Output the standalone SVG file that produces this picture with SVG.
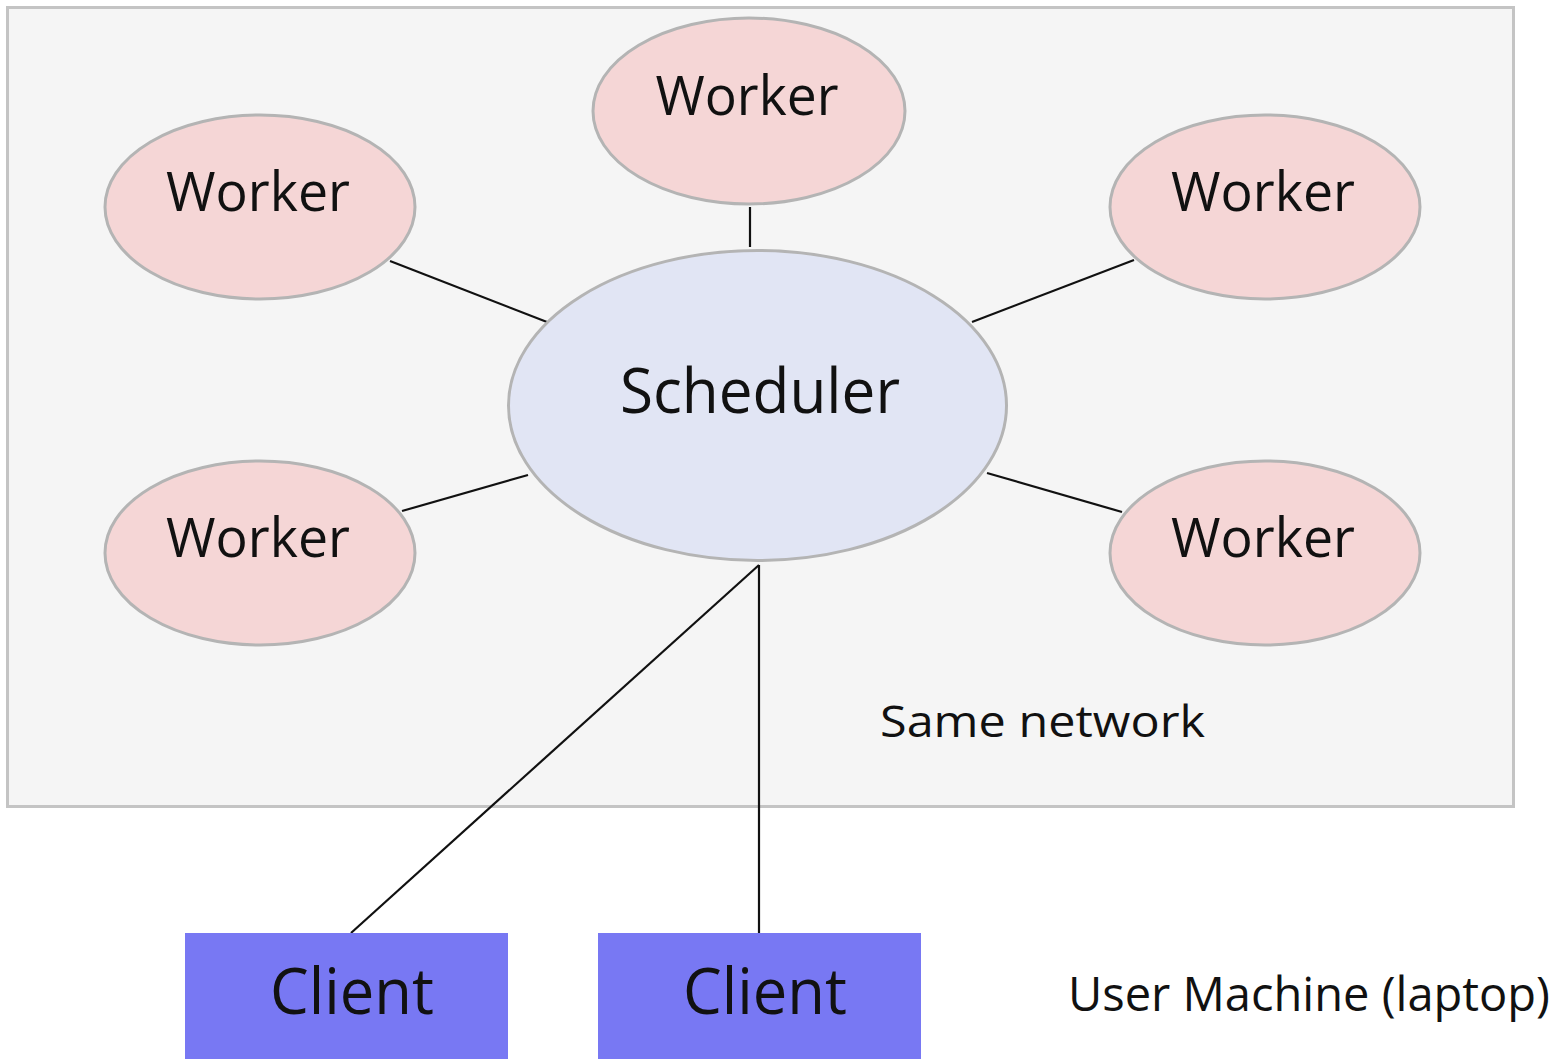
<svg xmlns="http://www.w3.org/2000/svg" width="1563" height="1059" viewBox="0 0 1563 1059">
  <style>
    text { font-family: "Open Sans", "DejaVu Sans", sans-serif; fill: #111; }
    .worker { fill: #f5d6d6; stroke: #b4b4b4; stroke-width: 3; }
    .sched { fill: #e1e5f4; stroke: #b4b4b4; stroke-width: 3; }
    .client { fill: #7878f3; }
    .link { stroke: #111; stroke-width: 2.2; fill: none; }
    .wlabel { font-size: 54px; text-anchor: middle; }
  </style>

  <!-- network boundary -->
  <g id="network">
    <rect x="7.5" y="7.5" width="1506" height="799" fill="#f5f5f5" stroke="#c4c4c4" stroke-width="3"/>
    <text x="880" y="737" font-size="43" textLength="325" lengthAdjust="spacingAndGlyphs">Same network</text>
  </g>

  <!-- connectors -->
  <g id="connectors" class="link">
    <line x1="750" y1="207" x2="750" y2="247"/>
    <line x1="390" y1="261" x2="547" y2="322"/>
    <line x1="1134" y1="260" x2="972" y2="322"/>
    <line x1="402" y1="511" x2="528" y2="475"/>
    <line x1="1122" y1="512" x2="987" y2="473"/>
    <line x1="759" y1="565" x2="351" y2="933"/>
    <line x1="759" y1="565" x2="759" y2="933"/>
  </g>

  <!-- workers -->
  <g id="worker-top">
    <ellipse class="worker" cx="749" cy="111" rx="156" ry="93"/>
    <text class="wlabel" x="747" y="115" textLength="183" lengthAdjust="spacingAndGlyphs">Worker</text>
  </g>
  <g id="worker-left-top">
    <ellipse class="worker" cx="260" cy="207" rx="155" ry="92"/>
    <text class="wlabel" x="258" y="211" textLength="184" lengthAdjust="spacingAndGlyphs">Worker</text>
  </g>
  <g id="worker-right-top">
    <ellipse class="worker" cx="1265" cy="207" rx="155" ry="92"/>
    <text class="wlabel" x="1263" y="211" textLength="184" lengthAdjust="spacingAndGlyphs">Worker</text>
  </g>
  <g id="worker-left-bottom">
    <ellipse class="worker" cx="260" cy="553" rx="155" ry="92"/>
    <text class="wlabel" x="258" y="557" textLength="184" lengthAdjust="spacingAndGlyphs">Worker</text>
  </g>
  <g id="worker-right-bottom">
    <ellipse class="worker" cx="1265" cy="553" rx="155" ry="92"/>
    <text class="wlabel" x="1263" y="557" textLength="184" lengthAdjust="spacingAndGlyphs">Worker</text>
  </g>

  <!-- scheduler -->
  <g id="scheduler">
    <ellipse class="sched" cx="757.5" cy="405.5" rx="249" ry="155"/>
    <text x="760" y="413" font-size="62" text-anchor="middle" textLength="280" lengthAdjust="spacingAndGlyphs">Scheduler</text>
  </g>

  <!-- clients -->
  <g id="client-1">
    <rect class="client" x="185" y="933" width="323" height="126"/>
    <text x="352" y="1014" font-size="64" text-anchor="middle" textLength="164" lengthAdjust="spacingAndGlyphs">Client</text>
  </g>
  <g id="client-2">
    <rect class="client" x="598" y="933" width="323" height="126"/>
    <text x="765" y="1014" font-size="64" text-anchor="middle" textLength="164" lengthAdjust="spacingAndGlyphs">Client</text>
  </g>

  <text id="user-machine" x="1068" y="1011" font-size="47" textLength="482" lengthAdjust="spacingAndGlyphs">User Machine (laptop)</text>
</svg>
